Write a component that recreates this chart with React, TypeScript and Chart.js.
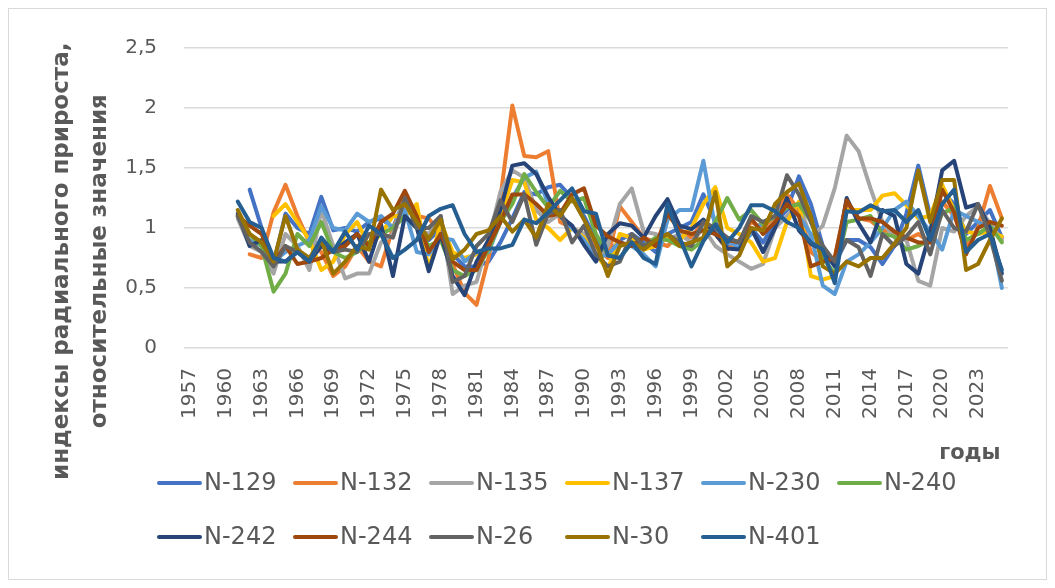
import React, { useEffect, useRef } from "react";
import { Chart, registerables } from "chart.js";

Chart.register(...registerables);

const YEARS = [
  "1957", "1958", "1959", "1960", "1961", "1962", "1963", "1964", "1965", "1966",
  "1967", "1968", "1969", "1970", "1971", "1972", "1973", "1974", "1975", "1976",
  "1977", "1978", "1979", "1980", "1981", "1982", "1983", "1984", "1985", "1986",
  "1987", "1988", "1989", "1990", "1991", "1992", "1993", "1994", "1995", "1996",
  "1997", "1998", "1999", "2000", "2001", "2002", "2003", "2004", "2005", "2006",
  "2007", "2008", "2009", "2010", "2011", "2012", "2013", "2014", "2015", "2016",
  "2017", "2018", "2019", "2020", "2021", "2022", "2023", "2024", "2025",
];

const N129 = [null, null, null, null, null, 1.32, 1.0, 0.7, 1.12, 1.0, 0.95, 1.26, 0.98, 1.0, 0.97, 1.05, 1.08, 1.0, 1.25, 1.05, 0.9, 1.0, 0.78, 0.68, 0.68, 0.72, 0.88, 1.08, 1.3, 1.28, 1.34, 1.36, 1.25, 1.1, 0.9, 0.78, 0.9, 0.95, 0.88, 0.8, 0.95, 1.0, 1.05, 1.28, 1.05, 0.85, 0.85, 1.0, 0.88, 1.05, 1.15, 1.43, 1.2, 0.85, 0.7, 0.9, 0.9, 0.84, 0.7, 0.85, 1.12, 1.52, 1.1, 1.3, 1.2, 0.95, 1.05, 1.15, 0.92];
const N132 = [null, null, null, null, null, 0.78, 0.75, 1.13, 1.36, 1.1, 0.88, 0.8, 0.6, 0.68, 0.85, 0.72, 0.68, 1.0, 1.2, 1.1, 1.08, 0.95, 0.7, 0.46, 0.36, 0.75, 1.25, 2.02, 1.6, 1.59, 1.64, 1.05, 1.0, 0.95, 0.85, 0.75, 1.18, 1.05, 0.92, 0.88, 0.85, 0.95, 0.92, 1.05, 0.95, 0.82, 0.9, 1.05, 1.0, 1.1, 1.28, 1.15, 0.8, 0.72, 0.75, 1.2, 1.08, 1.06, 0.98, 0.97, 0.9, 0.95, 0.88, 1.22, 1.1, 0.85, 1.0, 1.35, 1.08];
const N135 = [null, null, null, null, 1.08, 0.85, 0.8, 0.62, 0.95, 0.85, 0.65, 1.15, 0.85, 0.58, 0.62, 0.62, 0.88, 0.95, 1.28, 1.0, 0.95, 1.1, 0.45, 0.52, 0.55, 0.9, 1.3, 1.48, 1.42, 1.15, 1.05, 1.12, 1.0, 0.95, 0.75, 0.85, 1.2, 1.33, 0.97, 0.95, 0.9, 0.95, 0.88, 1.0, 0.85, 0.78, 0.72, 0.66, 0.7, 1.0, 1.1, 1.2, 0.92, 1.02, 1.33, 1.77, 1.64, 1.33, 1.05, 0.92, 0.9, 0.56, 0.52, 1.0, 0.97, 1.1, 1.18, 1.04, 0.9];
const N137 = [null, null, null, null, null, null, null, 1.1, 1.2, 1.05, 0.9, 0.65, 0.72, 0.95, 1.05, 0.85, 0.95, 1.1, 1.1, 1.2, 0.65, 1.05, 0.8, 0.75, 0.78, 0.85, 1.1, 1.4, 1.38, 1.07, 1.0, 0.9, 1.0, 0.92, 0.78, 0.65, 0.95, 0.92, 0.82, 0.85, 0.92, 0.9, 1.0, 1.2, 1.34, 1.0, 0.95, 0.88, 0.72, 0.75, 1.05, 1.22, 0.6, 0.57, 0.6, 1.15, 1.15, 1.15, 1.27, 1.29, 1.19, 1.08, 1.1, 1.36, 1.15, 0.97, 0.95, 0.97, 0.93];
const N230 = [null, null, null, null, null, 0.9, 0.85, 0.72, 0.8, 0.85, 0.9, 1.18, 1.0, 0.98, 1.12, 1.05, 1.1, 1.0, 1.15, 0.8, 0.78, 0.92, 0.9, 0.72, 0.8, 0.8, 1.05, 1.25, 1.42, 1.47, 1.2, 1.1, 1.0, 0.9, 0.75, 0.78, 0.88, 0.85, 0.78, 0.68, 1.07, 1.15, 1.15, 1.56, 1.0, 0.88, 0.85, 0.95, 1.05, 1.1, 1.2, 1.1, 0.95, 0.52, 0.45, 0.72, 0.78, 0.88, 1.0, 1.15, 1.22, 1.1, 0.97, 0.82, 1.15, 1.1, 1.05, 1.0, 0.5];
const N240 = [null, null, null, null, 1.1, 0.95, 0.85, 0.47, 0.62, 0.95, 0.85, 1.05, 0.8, 0.75, 0.8, 0.88, 0.95, 1.0, 1.1, 1.0, 0.85, 0.9, 0.65, 0.6, 0.65, 0.82, 1.05, 1.2, 1.45, 1.3, 1.17, 1.31, 1.22, 1.25, 0.95, 0.78, 0.75, 0.88, 0.85, 0.92, 0.9, 0.85, 0.82, 0.9, 1.05, 1.25, 1.07, 1.15, 1.03, 1.1, 1.17, 1.2, 1.06, 0.75, 0.62, 1.05, 1.07, 1.1, 0.95, 0.93, 0.82, 0.85, 0.9, 1.12, 1.17, 0.9, 0.95, 1.02, 0.88];
const N242 = [null, null, null, null, 1.12, 0.85, 0.9, 0.72, 0.72, 0.8, 0.72, 0.85, 0.8, 0.88, 0.95, 0.72, 1.03, 0.6, 1.1, 1.0, 0.64, 0.95, 0.6, 0.44, 0.72, 0.9, 1.15, 1.52, 1.54, 1.45, 1.26, 1.1, 1.02, 0.86, 0.72, 0.95, 1.04, 1.02, 0.92, 1.1, 1.24, 1.02, 0.99, 1.07, 0.95, 0.83, 0.82, 1.0, 0.8, 1.0, 1.25, 0.98, 0.87, 0.82, 0.68, 1.25, 1.04, 0.88, 1.15, 1.1, 0.7, 0.62, 0.97, 1.48, 1.56, 1.17, 1.2, 1.0, 0.62];
const N244 = [null, null, null, null, 1.1, 1.02, 0.95, 0.72, 0.85, 0.7, 0.72, 0.75, 0.82, 0.85, 0.95, 0.85, 1.05, 1.12, 1.31, 1.1, 0.8, 0.95, 0.72, 0.65, 0.65, 0.85, 1.05, 1.28, 1.28, 1.2, 1.1, 1.12, 1.28, 1.33, 1.02, 0.93, 0.88, 0.85, 0.92, 0.85, 1.12, 0.98, 0.95, 0.98, 0.95, 0.9, 0.88, 1.08, 0.95, 1.05, 1.2, 1.1, 0.68, 0.72, 0.75, 1.23, 1.08, 1.08, 1.05, 0.97, 0.92, 0.88, 0.88, 1.32, 1.13, 0.78, 1.0, 1.05, 1.02];
const N26 = [null, null, null, null, 1.1, 0.88, 0.8, 0.68, 0.85, 0.8, 0.72, 0.9, 0.8, 0.82, 0.8, 0.95, 0.95, 0.92, 1.25, 1.0, 1.0, 1.1, 0.55, 0.6, 0.85, 0.95, 1.23, 1.05, 1.28, 0.86, 1.12, 1.15, 0.88, 1.02, 0.78, 0.68, 0.72, 0.95, 0.85, 0.9, 0.95, 0.88, 0.85, 1.05, 1.0, 0.92, 0.88, 1.1, 1.05, 1.1, 1.44, 1.28, 1.05, 0.85, 0.72, 0.9, 0.84, 0.6, 0.95, 0.85, 0.93, 1.05, 0.78, 1.15, 1.0, 0.97, 1.2, 0.93, 0.56];
const N30 = [null, null, null, null, 1.15, 0.95, 0.88, 0.72, 1.1, 0.82, 0.75, 0.9, 0.62, 0.72, 0.85, 0.82, 1.32, 1.15, 1.2, 1.05, 0.91, 1.07, 0.74, 0.82, 0.95, 0.98, 1.1, 0.97, 1.07, 0.92, 1.2, 1.1, 1.25, 1.07, 0.88, 0.6, 0.85, 0.88, 0.82, 0.9, 0.95, 0.85, 0.88, 0.92, 1.3, 0.68, 0.77, 1.0, 0.98, 1.2, 1.3, 1.37, 1.1, 0.68, 0.62, 0.72, 0.68, 0.75, 0.75, 0.87, 1.0, 1.48, 1.05, 1.4, 1.4, 0.65, 0.7, 0.9, 1.08];
const N401 = [null, null, null, null, 1.22, 1.05, 1.0, 0.75, 0.72, 0.8, 0.72, 0.92, 0.8, 0.97, 0.82, 1.02, 0.95, 0.75, 0.82, 0.9, 1.1, 1.16, 1.19, 0.95, 0.8, 0.83, 0.83, 0.86, 1.07, 1.04, 1.13, 1.23, 1.33, 1.14, 1.12, 0.77, 0.75, 0.88, 0.75, 0.7, 1.2, 0.92, 0.68, 0.89, 1.03, 0.88, 1.0, 1.19, 1.19, 1.14, 1.05, 1.0, 0.88, 0.82, 0.54, 1.14, 1.13, 1.19, 1.14, 1.15, 1.05, 1.15, 0.9, 1.2, 1.32, 0.8, 0.9, 0.95, 0.65];

const SERIES_NAMES = ["N-129", "N-132", "N-135", "N-137", "N-230", "N-240", "N-242", "N-244", "N-26", "N-30", "N-401"];
const SERIES_DATA = [N129, N132, N135, N137, N230, N240, N242, N244, N26, N30, N401];
const SERIES_COLORS = ["#4472C4", "#ED7D31", "#A5A5A5", "#FFC000", "#5B9BD5", "#70AD47", "#264478", "#9E480E", "#636363", "#997300", "#255E91"];

const Y_TITLE = ["индексы радиального прироста,", "относительные значения"];
const X_TITLE = "годы";

const TEXT_COLOR = "#595959";
const FONT = '"DejaVu Sans", sans-serif';

const legendPlugin = {
  id: "gridLegend",
  afterDraw(chart: any) {
    const ctx = chart.ctx;
    ctx.save();
    ctx.font = `24px ${FONT}`;
    ctx.textBaseline = "middle";
    ctx.textAlign = "left";
    chart.data.datasets.forEach((ds: any, i: number) => {
      const row = i < 6 ? 0 : 1;
      const col = i < 6 ? i : i - 6;
      const x = 148 + col * 136;
      const y = 474 + row * 54;
      ctx.strokeStyle = ds.borderColor;
      ctx.lineWidth = 4;
      ctx.lineCap = "round";
      ctx.beginPath();
      ctx.moveTo(x + 2, y);
      ctx.lineTo(x + 43, y);
      ctx.stroke();
      ctx.fillStyle = TEXT_COLOR;
      ctx.fillText(ds.label, x + 47, y + 1);
    });
    ctx.restore();
  },
};

export default function App() {
  const ref = useRef<HTMLCanvasElement | null>(null);

  useEffect(() => {
    if (!ref.current) return;
    Chart.defaults.font.family = FONT;
    const pad = "\u2003\u2003\u2003\u2003\u2003\u2002";
    const chart = new Chart(ref.current, {
      type: "line",
      data: {
        labels: YEARS,
        datasets: SERIES_DATA.map((d, i) => ({
          label: SERIES_NAMES[i],
          data: d,
          borderColor: SERIES_COLORS[i],
          backgroundColor: SERIES_COLORS[i],
          borderWidth: 4,
          pointRadius: 0,
          pointHoverRadius: 0,
          tension: 0,
          fill: false,
          order: SERIES_DATA.length - 1 - i,
          borderJoinStyle: "round",
          borderCapStyle: "round",
        })),
      },
      options: {
        responsive: false,
        animation: false,
        events: [],
        layout: { padding: { left: 0, top: 24, right: 16, bottom: 108 } },
        plugins: { legend: { display: false }, tooltip: { enabled: false } },
        scales: {
          x: {
            type: "category",
            offset: true,
            grid: { display: false, drawTicks: false },
            border: { display: false },
            ticks: {
              autoSkip: false,
              maxRotation: 90,
              minRotation: 90,
              padding: 20,
              color: TEXT_COLOR,
              font: { size: 20 },
              callback: (_v: any, i: number) => (i % 3 === 0 ? YEARS[i] : ""),
            },
            title: {
              display: true,
              text: X_TITLE + " ",
              align: "end",
              color: TEXT_COLOR,
              font: { size: 21, weight: "bold" },
              padding: { top: 4, bottom: 5 },
            },
            afterFit: (s: any) => {
              s.height = 123;
            },
          },
          y: {
            min: 0,
            max: 2.5,
            ticks: {
              stepSize: 0.5,
              padding: 27,
              color: TEXT_COLOR,
              font: { size: 20 },
              callback: (v: any) => String(v).replace(".", ","),
            },
            grid: { color: "#d9d9d9", lineWidth: 1.5, drawTicks: false },
            border: { display: false },
            title: {
              display: true,
              text: Y_TITLE.map((t) => t + pad),
              color: TEXT_COLOR,
              font: { size: 23, weight: "bold", lineHeight: 1.65 },
              padding: { top: 34, bottom: 0 },
            },
            afterFit: (s: any) => {
              s.width = 175;
            },
          },
        },
      } as any,
      plugins: [legendPlugin],
    });
    return () => chart.destroy();
  }, []);

  return (
    <div
      style={{
        width: 1039,
        height: 572,
        border: "1px solid #d9d9d9",
        boxSizing: "border-box",
        background: "#fff",
      }}
    >
      <canvas ref={ref} width={1037} height={570} style={{ display: "block", width: 1037, height: 570 }} />
    </div>
  );
}
